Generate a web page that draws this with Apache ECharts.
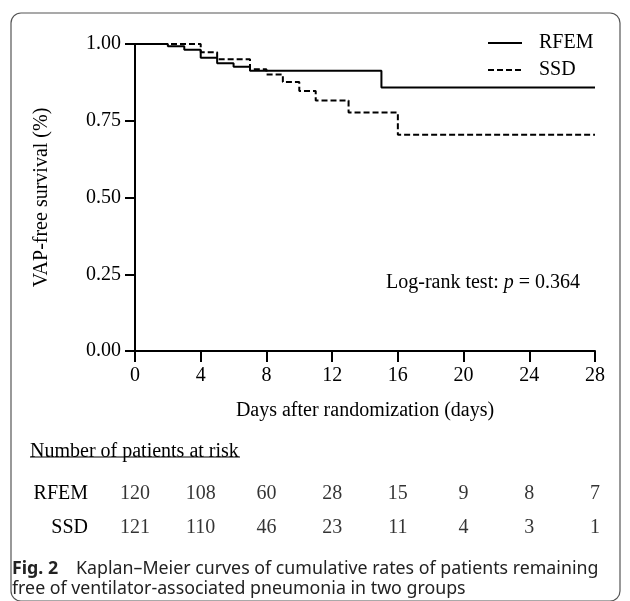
<!DOCTYPE html>
<html>
<head>
<meta charset="utf-8">
<script src="https://cdn.jsdelivr.net/npm/echarts@6/dist/echarts.min.js"></script>
<style>
  html, body { margin: 0; padding: 0; background: #fff; }
  #km { width: 630px; height: 601px; }
</style>
</head>
<body>
<div id="km"></div>
<script>
// Kaplan-Meier steps (day, survival)
var rfemDays = [0, 2, 3, 4, 5, 6, 7, 15, 28];
var rfemSurv = [1.000, 0.993, 0.981, 0.955, 0.937, 0.926, 0.913, 0.858, 0.858];
var ssdDays = [0, 4, 5, 7, 8, 9, 10, 11, 13, 16, 28];
var ssdSurv = [1.000, 0.973, 0.950, 0.918, 0.901, 0.876, 0.847, 0.816, 0.777, 0.704, 0.704];

// number at risk table
var riskDays = [0, 4, 8, 12, 16, 20, 24, 28];
var riskGroups = ['RFEM', 'SSD'];
var rfemRisk = [120, 108, 60, 28, 15, 9, 8, 7];
var ssdRisk = [121, 110, 46, 23, 11, 4, 3, 1];

var serif = 'Liberation Serif';

function pairs(xs, ys) {
    return xs.map(function (x, i) { return [x, ys[i]]; });
}
var riskData = [];
riskDays.forEach(function (d, i) {
    riskData.push([d, 'RFEM', rfemRisk[i]]);
    riskData.push([d, 'SSD', ssdRisk[i]]);
});

var option = {
    animation: false,
    backgroundColor: '#fff',
    title: [
        {
            text: '{a|Log-rank test: }{i|p}{a| = 0.364}',
            left: 381, top: 268,
            textStyle: {
                fontWeight: 'normal',
                rich: {
                    a: { fontFamily: serif, fontSize: 20, fontWeight: 'normal', color: '#000' },
                    i: { fontFamily: serif, fontSize: 20, fontWeight: 'normal', fontStyle: 'italic', color: '#000' }
                }
            }
        },
        {
            text: 'Number of patients at risk',
            left: 25, top: 437,
            textStyle: { fontFamily: serif, fontSize: 20, fontWeight: 'normal', color: '#000' }
        },
        {
            text: '{b|Fig. 2}  {n|Kaplan\u2013Meier curves of cumulative rates of patients remaining}\n{n|free of ventilator-associated pneumonia in two groups}',
            left: 7, top: 554,
            textStyle: {
                fontWeight: 'normal',
                rich: {
                    b: { fontFamily: 'Noto Sans', fontSize: 17.8, fontWeight: 'bold', color: '#222', lineHeight: 20, padding: [0, 8, 0, 0] },
                    n: { fontFamily: 'Noto Sans', fontSize: 17.8, fontWeight: 'normal', color: '#222', lineHeight: 20 }
                }
            }
        }
    ],
    legend: {
        orient: 'vertical',
        left: 482, top: 28,
        itemWidth: 34, itemHeight: 14, itemGap: 7,
        selectedMode: false,
        data: ['RFEM', 'SSD'],
        itemStyle: { opacity: 0 },
        textStyle: { fontFamily: serif, fontSize: 20, color: '#000', padding: [0, 0, 0, 12] }
    },
    grid: [
        { left: 135, right: 35, top: 44, bottom: 250 },
        { left: 135, right: 35, top: 477, height: 68 }
    ],
    xAxis: [
        {
            type: 'value', gridIndex: 0, min: 0, max: 28, interval: 4,
            name: 'Days after randomization (days)', nameLocation: 'middle', nameGap: 50,
            nameTextStyle: { fontFamily: serif, fontSize: 20, color: '#000' },
            axisLine: { lineStyle: { color: '#000', width: 2 } },
            axisTick: { length: 11, lineStyle: { color: '#000', width: 2 } },
            axisLabel: { fontFamily: serif, fontSize: 20, color: '#000', margin: 15 },
            splitLine: { show: false }
        },
        {
            type: 'value', gridIndex: 1, min: 0, max: 28, show: false
        }
    ],
    yAxis: [
        {
            type: 'value', gridIndex: 0, min: 0, max: 1, interval: 0.25,
            name: 'VAP-free survival (%)', nameLocation: 'middle', nameGap: 83,
            nameTextStyle: { fontFamily: serif, fontSize: 20, color: '#000' },
            axisLine: { show: true, lineStyle: { color: '#000', width: 2 } },
            axisTick: { show: true, length: 10, lineStyle: { color: '#000', width: 2 } },
            axisLabel: {
                fontFamily: serif, fontSize: 20, color: '#000', margin: 14,
                formatter: function (v) { return v.toFixed(2); }
            },
            splitLine: { show: false }
        },
        {
            type: 'category', gridIndex: 1, data: riskGroups, inverse: true,
            axisLine: { show: false }, axisTick: { show: false },
            axisLabel: { fontFamily: serif, fontSize: 20, color: '#000', margin: 47 }
        }
    ],
    series: [
        {
            name: 'RFEM', type: 'line', step: 'end', symbol: 'none',
            xAxisIndex: 0, yAxisIndex: 0,
            lineStyle: { color: '#000', width: 2 },
            itemStyle: { color: '#000' },
            data: pairs(rfemDays, rfemSurv)
        },
        {
            name: 'SSD', type: 'line', step: 'end', symbol: 'none',
            xAxisIndex: 0, yAxisIndex: 0,
            lineStyle: { color: '#000', width: 2, type: [6, 3] },
            itemStyle: { color: '#000' },
            data: pairs(ssdDays, ssdSurv)
        },
        {
            name: 'risk', type: 'scatter', symbolSize: 0,
            xAxisIndex: 1, yAxisIndex: 1,
            label: {
                show: true, position: 'inside',
                fontFamily: serif, fontSize: 20, color: '#000',
                formatter: function (p) { return p.value[2]; }
            },
            data: riskData
        }
    ],
    graphic: [
        {
            type: 'rect', silent: true,
            shape: { x: 11, y: 13, width: 609, height: 588, r: 10 },
            style: { fill: 'none', stroke: '#555', lineWidth: 1.2 }
        },
        {
            type: 'line', silent: true,
            shape: { x1: 30, y1: 457, x2: 240, y2: 457 },
            style: { stroke: '#000', lineWidth: 1 }
        }
    ]
};

var mychart = echarts.init(document.getElementById('km'));
mychart.setOption(option);
</script>
</body>
</html>
